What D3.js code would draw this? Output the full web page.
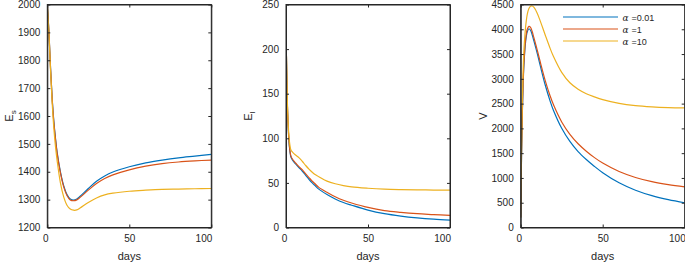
<!DOCTYPE html>
<html>
<head>
<meta charset="utf-8">
<script src="https://cdn.jsdelivr.net/npm/d3@7"></script>
<style>
  body { margin: 0; background: #fff; }
  svg { display: block; }
  .tick text { font-family: "Liberation Sans", Arial, sans-serif; font-size: 10px; fill: #262626; }
  .axisLabel { font-family: "Liberation Sans", Arial, sans-serif; font-size: 11px; fill: #262626; }
  .legendText { font-family: "Liberation Sans", Arial, sans-serif; font-size: 9px; fill: #262626; }
</style>
</head>
<body>
<svg id="chart" width="685" height="262"></svg>
<script>
// data
var seriesNames = ["0.01", "1", "10"];
var seriesColors = ["#0072BD", "#D95319", "#EDB120"];

var daysEs = [0, 1, 2, 3, 4, 5, 6, 8, 10, 12, 14, 16, 18, 20, 25, 30, 35, 40, 50, 60, 70, 80, 90, 100];
var esLow  = [2000, 1900, 1770, 1660, 1580, 1520, 1470, 1400, 1350, 1318, 1302, 1298, 1302, 1312, 1340, 1366, 1385, 1399, 1418, 1432, 1442, 1450, 1456, 1462];
var esMid  = [2000, 1900, 1768, 1657, 1576, 1516, 1466, 1396, 1346, 1315, 1299, 1296, 1299, 1308, 1334, 1358, 1376, 1389, 1407, 1420, 1429, 1435, 1439, 1442];
var esHigh = [2000, 1895, 1760, 1645, 1555, 1490, 1440, 1360, 1310, 1280, 1266, 1262, 1263, 1270, 1290, 1306, 1317, 1323, 1330, 1334, 1337, 1338, 1339, 1340];

var daysEi = [0, 0.5, 1, 2, 3, 4, 5, 6, 8, 10, 12, 14, 16, 18, 20, 25, 30, 35, 40, 50, 60, 70, 80, 90, 100];
var eiLow  = [220, 170, 128, 92, 79, 75.5, 73, 71, 67, 63, 58.5, 54, 50, 46.5, 43, 37, 32, 28, 25, 19.5, 15.5, 12.8, 10.8, 9.3, 8.2];
var eiMid  = [220, 170, 129, 93, 80, 76.5, 74, 72, 68, 64.5, 60, 56, 52, 48.5, 45, 39.5, 34.5, 30.5, 27.5, 22.5, 19, 17, 15.5, 14.5, 13.5];
var eiHigh = [220, 172, 132, 98, 87, 84.5, 82.5, 81, 78, 74, 69.5, 65.5, 62, 59, 57, 52, 49, 47, 45.5, 44, 43, 42.5, 42.2, 42, 41.8];

var daysV = [0, 0.5, 1, 1.5, 2, 3, 4, 5, 6, 7, 8, 10, 12, 15, 18, 20, 25, 30, 35, 40, 45, 50, 60, 70, 80, 90, 100];
var vLow  = [200, 1400, 2300, 2900, 3300, 3750, 3950, 4010, 3980, 3890, 3770, 3525, 3255, 2870, 2546, 2362, 2002, 1737, 1532, 1372, 1232, 1107, 902, 752, 642, 562, 500];
var vMid  = [200, 1450, 2350, 2950, 3350, 3800, 4000, 4060, 4040, 3955, 3835, 3590, 3330, 2960, 2650, 2475, 2130, 1880, 1690, 1540, 1410, 1300, 1130, 1010, 925, 865, 820];
var vHigh = [200, 1600, 2600, 3200, 3600, 4050, 4300, 4420, 4465, 4470, 4445, 4330, 4160, 3880, 3610, 3450, 3130, 2920, 2790, 2700, 2635, 2580, 2505, 2460, 2435, 2420, 2412];

var xTicks = [0, 50, 100];

var panels = [
  { left: 47.3, label: "E", sub: "s", days: daysEs, series: [esLow, esMid, esHigh], domain: [1200, 2000], ticks: d3.range(1200, 2001, 100) },
  { left: 286, label: "E", sub: "I", days: daysEi, series: [eiLow, eiMid, eiHigh], domain: [0, 250], ticks: d3.range(0, 251, 50) },
  { left: 520.7, label: "V", sub: null, days: daysV, series: [vLow, vMid, vHigh], domain: [0, 4500], ticks: d3.range(0, 4501, 500), legend: true }
];

var PLOT_W = 164;
var TOP = 4.5;
var BOTTOM = 227.5;

var svg = d3.select("#chart");

panels.forEach(function(p, pi){
  var g = svg.append("g");

  var x = d3.scaleLinear().domain([0, 100]).range([p.left, p.left + PLOT_W]);
  var y = d3.scaleLinear().domain(p.domain).range([BOTTOM, TOP]);

  var clipId = "clip" + pi;
  svg.append("clipPath").attr("id", clipId)
    .append("rect")
    .attr("x", p.left).attr("y", TOP)
    .attr("width", PLOT_W).attr("height", BOTTOM - TOP);

  // lines
  var line = d3.line()
    .x(function(d){ return x(d[0]); })
    .y(function(d){ return y(d[1]); })
    .curve(d3.curveCatmullRom.alpha(0.5));

  p.series.forEach(function(vals, si){
    var pts = p.days.map(function(d, i){ return [d, vals[i]]; });
    g.append("path")
      .attr("clip-path", "url(#" + clipId + ")")
      .attr("d", line(pts))
      .attr("fill", "none")
      .attr("stroke", seriesColors[si])
      .attr("stroke-width", 1.2);
  });

  // axes (ticks inside, mirrored)
  var bottomAxis = d3.axisBottom(x).tickValues(xTicks).tickSizeInner(-3).tickSizeOuter(0).tickPadding(7).tickFormat(d3.format("d"));
  var topAxis = d3.axisTop(x).tickValues(xTicks).tickSizeInner(-3).tickSizeOuter(0).tickFormat("");
  var leftAxis = d3.axisLeft(y).tickValues(p.ticks).tickSizeInner(-3).tickSizeOuter(0).tickPadding(7).tickFormat(d3.format("d"));
  var rightAxis = d3.axisRight(y).tickValues(p.ticks).tickSizeInner(-3).tickSizeOuter(0).tickFormat("");

  var bx = g.append("g").attr("transform", "translate(0," + BOTTOM + ")").call(bottomAxis);
  g.append("g").attr("transform", "translate(0," + TOP + ")").call(topAxis);
  g.append("g").attr("transform", "translate(" + p.left + ",0)").call(leftAxis);
  g.append("g").attr("transform", "translate(" + (p.left + PLOT_W) + ",0)").call(rightAxis);

  // last x label sits flush with the frame, the first a little to the left
  bx.selectAll(".tick text")
    .attr("text-anchor", function(d){ return d == 100 ? "end" : "middle"; })
    .attr("dx", function(d){ if(d == 100) return 0.5; if(d == 0) return -2; return 0; });

  g.selectAll(".domain").attr("stroke", "#262626");
  g.selectAll(".tick line").attr("stroke", "#262626");

  // frame
  g.append("rect")
    .attr("x", p.left).attr("y", TOP)
    .attr("width", PLOT_W).attr("height", BOTTOM - TOP)
    .attr("fill", "none").attr("stroke", "#262626").attr("stroke-width", 1);

  // x label
  g.append("text").attr("class", "axisLabel")
    .attr("text-anchor", "middle")
    .attr("x", p.left + PLOT_W / 2).attr("y", 260)
    .text("days");

  // y label
  var yl = g.append("text").attr("class", "axisLabel")
    .attr("text-anchor", "middle")
    .attr("transform", "translate(" + (p.left - 34) + "," + ((TOP + BOTTOM) / 2) + ") rotate(-90)");
  yl.append("tspan").text(p.label);
  if(p.sub)
    yl.append("tspan").attr("dy", 3).attr("font-size", "8px").text(p.sub);

  if(p.legend)
  {
    var lg = g.append("g");
    seriesNames.forEach(function(name, si){
      var ly = 17 + si * 12;
      lg.append("line")
        .attr("x1", 563).attr("x2", 618)
        .attr("y1", ly).attr("y2", ly)
        .attr("stroke", seriesColors[si]).attr("stroke-width", 1.2);
      var t = lg.append("text").attr("class", "legendText")
        .attr("x", 622.5).attr("y", ly + 3.5);
      t.append("tspan").attr("font-style", "italic").attr("font-family", "DejaVu Serif").text("α");
      t.append("tspan").attr("dx", 3).text("=" + name);
    });
  }
});
</script>
</body>
</html>
